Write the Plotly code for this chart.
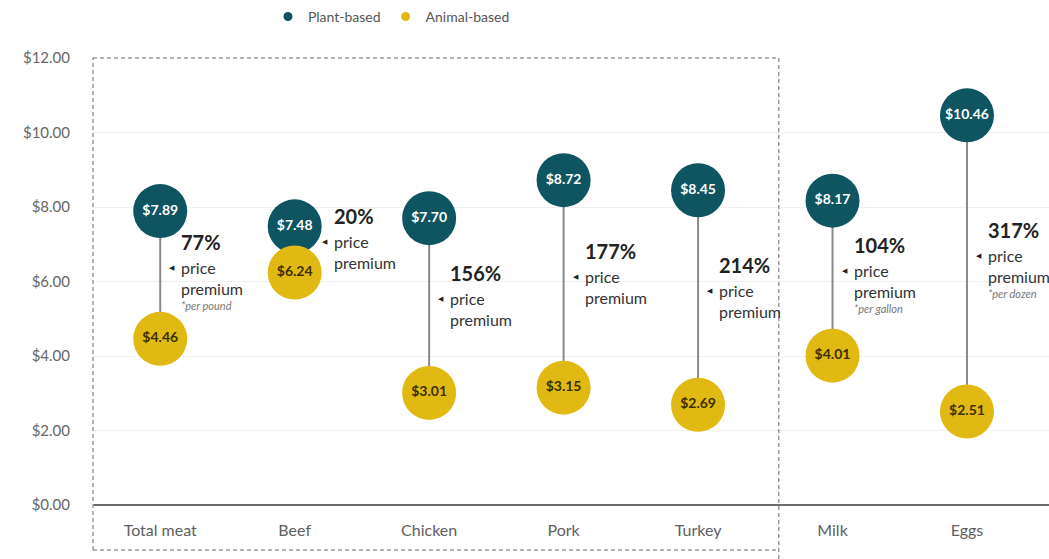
import plotly.graph_objects as go

# ---- data ----
categories = ["Total meat", "Beef", "Chicken", "Pork", "Turkey", "Milk", "Eggs"]
plant_price = [7.89, 7.48, 7.70, 8.72, 8.45, 8.17, 10.46]
animal_price = [4.46, 6.24, 3.01, 3.15, 2.69, 4.01, 2.51]
premium_pct = ["77%", "20%", "156%", "177%", "214%", "104%", "317%"]
footnotes = ["*per pound", "", "", "", "", "*per gallon", "*per dozen"]
y_tick_vals = [0, 2, 4, 6, 8, 10, 12]
y_tick_text = ["$0.00", "$2.00", "$4.00", "$6.00", "$8.00", "$10.00", "$12.00"]
series_names = ["Plant-based", "Animal-based"]

# ---- style ----
PLANT = "#0f5461"
ANIMAL = "#e0b912"
LINE = "#8a8a8a"
FONT = "Lato"
W, H = 1049, 559
ML, MR, MT, MB = 93, 0, 58, 54
X_RANGE = [-0.5, 6.61]
Y_RANGE = [0, 12]
MARKER = 54
px_per_unit = (H - MT - MB) / (Y_RANGE[1] - Y_RANGE[0])

idx = list(range(len(categories)))

fig = go.Figure()

# connectors
cx, cy = [], []
for i, p, a in zip(idx, plant_price, animal_price):
    cx += [i, i, None]
    cy += [p, a, None]
fig.add_trace(go.Scatter(x=cx, y=cy, mode="lines", line=dict(color=LINE, width=2),
                         hoverinfo="skip", showlegend=False, cliponaxis=False))

fig.add_trace(go.Scatter(
    x=idx, y=plant_price, mode="markers+text", name=series_names[0],
    marker=dict(size=MARKER, color=PLANT),
    text=[f"<b>${v:.2f}</b>" for v in plant_price], textposition="middle center",
    textfont=dict(family=FONT, size=14, color="white"), showlegend=False, cliponaxis=False))
fig.add_trace(go.Scatter(
    x=idx, y=animal_price, mode="markers+text", name=series_names[1],
    marker=dict(size=MARKER, color=ANIMAL),
    text=[f"<b>${v:.2f}</b>" for v in animal_price], textposition="middle center",
    textfont=dict(family=FONT, size=14, color="#3b3000"), showlegend=False, cliponaxis=False))

# legend-only traces
for name, col in zip(series_names, [PLANT, ANIMAL]):
    fig.add_trace(go.Scatter(x=[None], y=[None], mode="markers", name=name,
                             marker=dict(size=9, color=col)))

# premium annotations
for i, p, a, pct, fn in zip(idx, plant_price, animal_price, premium_pct, footnotes):
    mid = (p + a) / 2
    extra = 18 if (p - a) * px_per_unit < MARKER else 0
    ys = 7
    fig.add_annotation(x=i, y=mid, xref="x", yref="y", text="◀", showarrow=False,
                       xanchor="center", yanchor="middle", xshift=12 + extra, yshift=ys,
                       font=dict(size=7, color="#222", family="DejaVu Sans"))
    fig.add_annotation(x=i, y=mid, xref="x", yref="y", text="price<br>premium",
                       showarrow=False, xanchor="left", yanchor="top", align="left",
                       xshift=19 + extra, yshift=ys + 12,
                       font=dict(size=16, color="#333", family=FONT))
    fig.add_annotation(x=i, y=mid, xref="x", yref="y", text=f"<b>{pct}</b>",
                       showarrow=False, xanchor="left", yanchor="bottom", align="left",
                       xshift=19 + extra, yshift=ys + 12,
                       font=dict(size=20, color="#222", family=FONT))
    if fn:
        fig.add_annotation(x=i, y=mid, xref="x", yref="y", text=f"<i>{fn}</i>",
                           showarrow=False, xanchor="left", yanchor="top", align="left",
                           xshift=19 + extra, yshift=ys - 29,
                           font=dict(size=11, color="#777", family=FONT))

# dashed box around meat categories
span = X_RANGE[1] - X_RANGE[0]
xr = (4.6 - X_RANGE[0]) / span
yb = -45 / (H - MT - MB)
dash = dict(color="#9a9a9a", width=1.5, dash="4px,3px")
for x0, y0, x1, y1 in [(0, yb, 0, 1), (0, 1, xr, 1), (0, yb, xr, yb), (xr, yb - 0.02, xr, 1)]:
    fig.add_shape(type="line", xref="paper", yref="paper", x0=x0, y0=y0, x1=x1, y1=y1,
                  line=dash, layer="above")

fig.update_layout(
    width=W, height=H, margin=dict(l=ML, r=MR, t=MT, b=MB),
    paper_bgcolor="white", plot_bgcolor="white",
    font=dict(family=FONT, color="#555"),
    showlegend=True,
    legend=dict(orientation="h", x=0.183, y=1.092, xanchor="left", yanchor="middle",
                font=dict(size=14, color="#555", family=FONT), itemwidth=30,
                bgcolor="rgba(0,0,0,0)"),
    xaxis=dict(range=X_RANGE, tickmode="array", tickvals=idx, ticktext=categories,
               showgrid=False, zeroline=False, showline=False, ticks="",
               tickfont=dict(size=16, color="#606060", family=FONT), ticklabelstandoff=14),
    yaxis=dict(range=Y_RANGE, tickmode="array", tickvals=y_tick_vals, ticktext=y_tick_text,
               showgrid=True, gridcolor="#f0f0f0", gridwidth=1,
               zeroline=True, zerolinecolor="#6b6b6b", zerolinewidth=2,
               showline=False, ticks="", ticklabelstandoff=22,
               tickfont=dict(size=15, color="#666", family=FONT)),
)

fig.write_html("out.html")
